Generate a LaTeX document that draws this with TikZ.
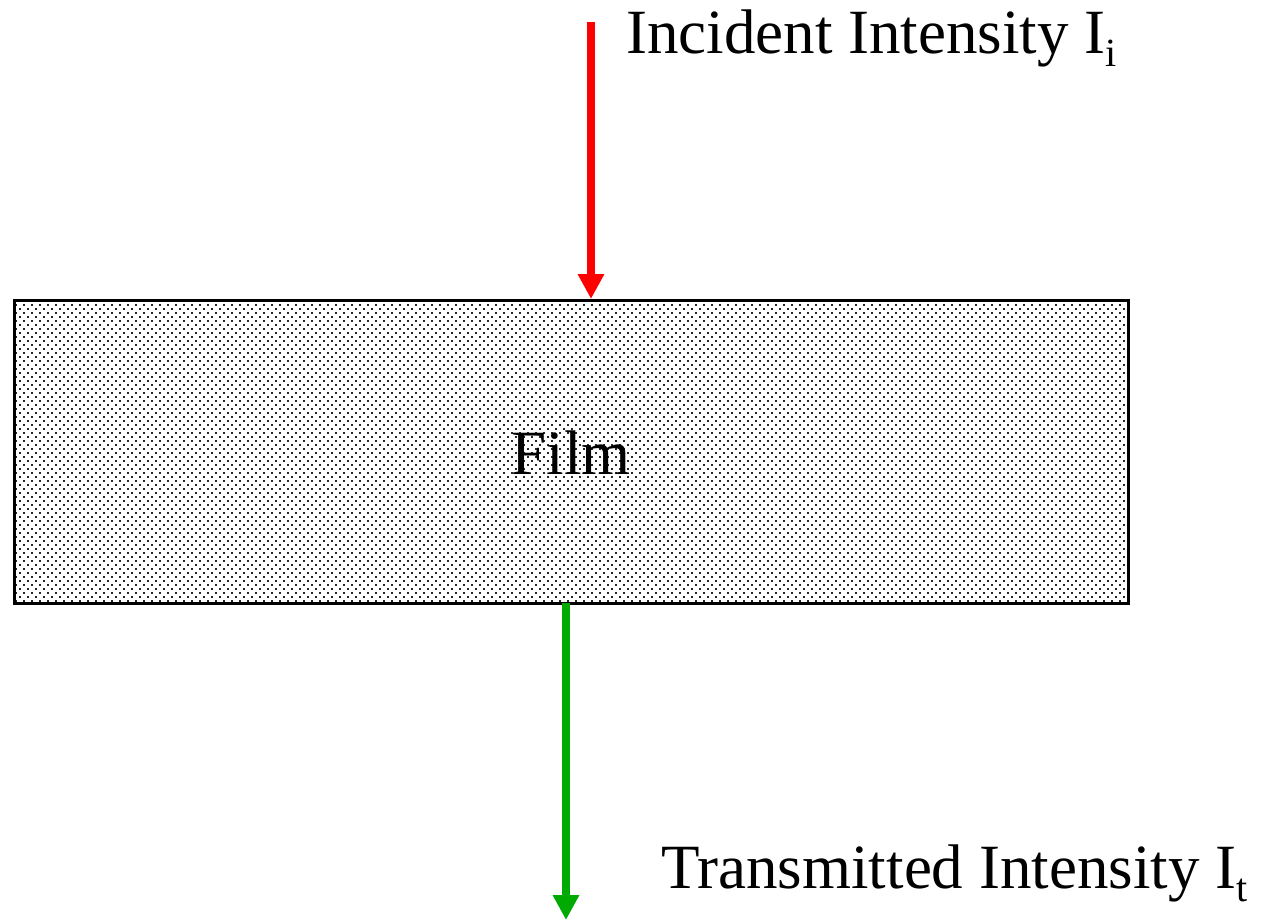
\documentclass[tikz,border=0pt]{standalone}
\usepackage{fontspec}
\setmainfont{Liberation Serif}
\usetikzlibrary{arrows.meta,patterns}
\pgfdeclarepatternformonly{filmdots}{\pgfqpoint{-1pt}{-1pt}}{\pgfqpoint{9pt}{9pt}}{\pgfqpoint{8pt}{8pt}}{%
  \pgfpathrectangle{\pgfqpoint{-0.9pt}{-0.9pt}}{\pgfqpoint{1.8pt}{1.8pt}}%
  \pgfpathrectangle{\pgfqpoint{3.1pt}{3.1pt}}{\pgfqpoint{1.8pt}{1.8pt}}%
  \pgfusepath{fill}}
\definecolor{myred}{RGB}{255,0,0}
\definecolor{mygreen}{RGB}{0,170,0}
\newcommand{\mysub}[1]{\raisebox{-13pt}{\fontsize{40}{44}\selectfont #1}}
\tikzset{
  lbl/.style={font=\fontsize{63}{70}\selectfont, anchor=base west, inner sep=0pt},
  beam/.style={line width=8pt, -{Triangle[width=25pt,length=25pt]}},
}
\begin{document}
\begin{tikzpicture}[x=1pt,y=-1pt]
\useasboundingbox (0,0) rectangle (1262,921);
\node[draw=black, line width=3pt, pattern=filmdots, pattern color=black!85, minimum width=1114pt, minimum height=303pt, inner sep=0pt] (film) at (571,451.5) {};
\node[font=\fontsize{63}{70}\selectfont, inner sep=0pt, anchor=base] (filmlbl) at (571,474) {Film};
\coordinate (inTop) at (591,22);
\coordinate (inEnd) at (591,299);
\draw[beam, draw=myred, fill=myred] (inTop) -- (inEnd);
\coordinate (outStart) at (566,603);
\coordinate (outEnd) at (566,920);
\draw[beam, draw=mygreen, fill=mygreen] (outStart) -- (outEnd);
\node[lbl] (inc) at (626,53) {Incident Intensity I\mysub{i}};
\node[lbl] (tr) at (661,888) {Transmitted Intensity I\mysub{t}};
\end{tikzpicture}
\end{document}
